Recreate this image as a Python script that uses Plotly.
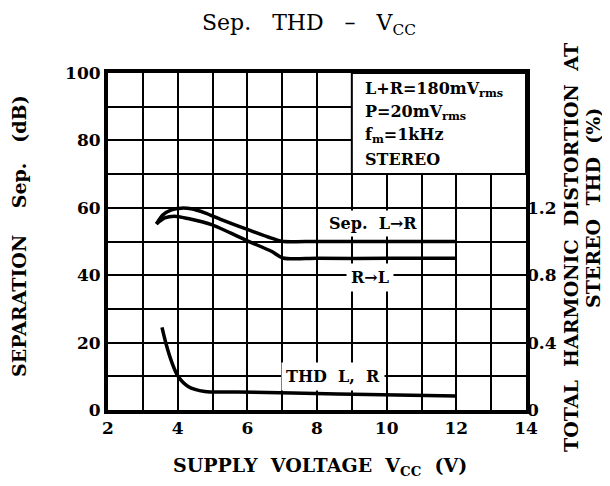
import plotly.graph_objects as go

# ---- data ----
sep_lr_x = [3.39, 3.58, 3.82, 4.10, 4.39, 4.78, 5.25, 6.02, 6.69, 6.98, 8.0, 10.0, 12.0]
sep_lr_y = [55.2, 57.9, 59.4, 59.9, 59.7, 58.5, 56.5, 53.5, 51.0, 50.1, 50.0, 50.0, 50.0]

sep_rl_x = [3.39, 3.63, 3.91, 4.30, 4.97, 6.02, 6.69, 7.02, 8.0, 10.0, 12.0]
sep_rl_y = [55.2, 57.0, 57.5, 56.8, 55.0, 50.1, 47.1, 45.1, 45.0, 45.0, 45.0]

thd_x = [3.55, 3.67, 3.82, 4.01, 4.30, 4.78, 5.70, 8.60, 12.0]
thd_y = [0.49, 0.39, 0.29, 0.20, 0.14, 0.11, 0.107, 0.095, 0.083]

x_ticks = [2, 4, 6, 8, 10, 12, 14]
y_ticks = [0, 20, 40, 60, 80, 100]
y2_ticks = [0, 0.4, 0.8, 1.2]
y2_labels = ["0", "0.4", "0.8", "1.2"]

FONT = "DejaVu Serif"
bold = dict(family=FONT, size=17, color="black", weight="bold")
S = "\u00a0"

# plot area in pixels
L, R, T, B = 100, 518, 65, 402
W, H = 610, 486


def px(xp):
    return (xp - L) / (R - L)


def py(yp):
    return (B - yp) / (B - T)


fig = go.Figure()
line = dict(color="black", width=3.5, shape="spline", smoothing=0.8)
fig.add_trace(go.Scatter(x=sep_lr_x, y=sep_lr_y, mode="lines", line=line,
                         showlegend=False, hoverinfo="skip"))
fig.add_trace(go.Scatter(x=sep_rl_x, y=sep_rl_y, mode="lines", line=line,
                         showlegend=False, hoverinfo="skip"))
fig.add_trace(go.Scatter(x=thd_x, y=thd_y, mode="lines", line=line, yaxis="y2",
                         showlegend=False, hoverinfo="skip"))

fig.update_layout(
    width=W, height=H,
    margin=dict(l=L, r=W - R, t=T, b=H - B, autoexpand=False),
    paper_bgcolor="white", plot_bgcolor="white",
    xaxis=dict(range=[2, 14], tickvals=x_ticks, showgrid=True, gridcolor="black",
               gridwidth=2, minor=dict(dtick=1, showgrid=True, gridcolor="black", gridwidth=2),
               showline=True, linecolor="black", linewidth=4, mirror=True, automargin=False,
               ticks="", tickfont=bold, ticklabelstandoff=0, zeroline=False),
    yaxis=dict(range=[0, 100], tickvals=y_ticks, showgrid=True, gridcolor="black",
               gridwidth=2, minor=dict(dtick=10, showgrid=True, gridcolor="black", gridwidth=2),
               showline=True, linecolor="black", linewidth=4, mirror=True, automargin=False,
               ticks="", tickfont=bold, ticklabelstandoff=0, zeroline=False),
    yaxis2=dict(range=[0, 2], overlaying="y", side="right", tickvals=y2_ticks,
                ticktext=y2_labels, showgrid=False, showline=False, ticks="", automargin=False,
                tickfont=bold, ticklabelstandoff=0, zeroline=False),
)

fig.add_shape(type="rect", xref="x", yref="y", x0=9, x1=14, y0=70, y1=100,
              fillcolor="white", line=dict(color="black", width=2), layer="between")

lab = dict(family=FONT, size=16, color="black", weight="bold")
box_lines = ["L+R=180mV<sub>rms</sub>", "P=20mV<sub>rms</sub>", "f<sub>m</sub>=1kHz", "STEREO"]
box_y = [95.0, 88.4, 81.6, 74.3]
for t, yy in zip(box_lines, box_y):
    fig.add_annotation(x=9.32, y=yy, xref="x", yref="y", text=t, showarrow=False,
                       xanchor="left", yanchor="middle", font=lab)

fig.add_annotation(x=9.6, y=55.3, xref="x", yref="y", text="Sep." + S * 2 + "L→R",
                   showarrow=False, font=lab, bgcolor="white", borderpad=3)
fig.add_annotation(x=9.52, y=39.3, xref="x", yref="y", text="R→L", showarrow=False,
                   font=lab, bgcolor="white", borderpad=4)
fig.add_annotation(x=8.45, y=9.8, xref="x", yref="y", text="THD" + S * 2 + "L," + S * 2 + "R",
                   showarrow=False, font=lab, bgcolor="white", borderpad=4)

# titles
ttl = dict(family=FONT, size=19, color="black", weight="bold")
fig.add_annotation(x=px(301), y=py(17), xref="paper", yref="paper",
                   xanchor="center", yanchor="middle",
                   text="Sep." + S * 3 + "THD" + S * 3 + "–" + S * 3 + "V<sub>CC</sub>",
                   showarrow=False, font=dict(family=FONT, size=22, color="black"))
fig.add_annotation(x=px(312), y=py(458), xref="paper", yref="paper",
                   xanchor="center", yanchor="middle",
                   text="SUPPLY" + S * 2 + "VOLTAGE" + S * 2 + "V<sub>CC</sub>" + S * 2 + "(V)",
                   showarrow=False, font=ttl)
fig.add_annotation(x=px(11), y=py(228), xref="paper", yref="paper",
                   xanchor="center", yanchor="middle",
                   text="SEPARATION" + S * 4 + "Sep." + S * 3 + "(dB)",
                   showarrow=False, textangle=-90, font=ttl)
fig.add_annotation(x=px(563), y=py(240), xref="paper", yref="paper",
                   xanchor="center", yanchor="middle",
                   text="TOTAL" + S * 2 + "HARMONIC" + S * 2 + "DISTORTION" + S * 2 + "AT",
                   showarrow=False, textangle=-90, font=ttl)
fig.add_annotation(x=px(585), y=py(200), xref="paper", yref="paper",
                   xanchor="center", yanchor="middle",
                   text="STEREO" + S * 2 + "THD" + S * 2 + "(%)",
                   showarrow=False, textangle=-90, font=ttl)

fig.write_html("out.html")
